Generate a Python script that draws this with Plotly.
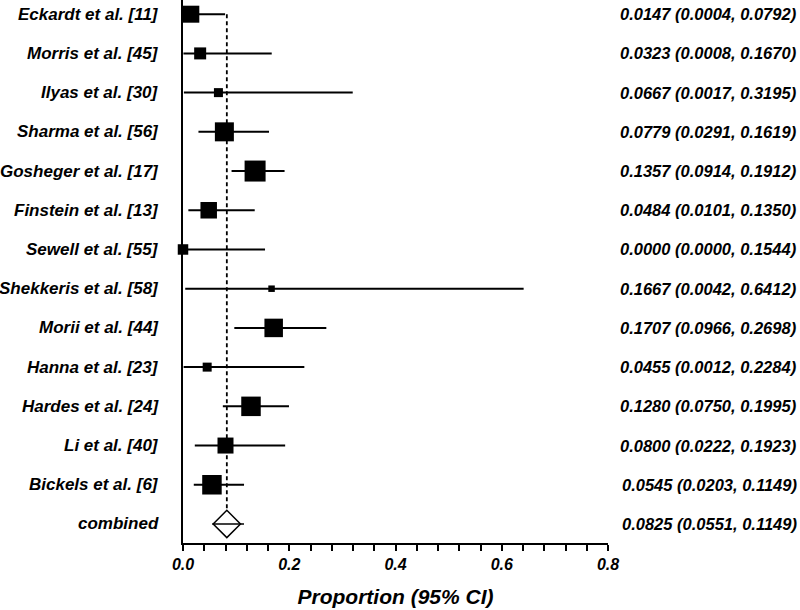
import plotly.graph_objects as go

# ---------------- data ----------------
studies = ["Eckardt et al. [11]", "Morris et al. [45]", "Ilyas et al. [30]",
           "Sharma et al. [56]", "Gosheger et al. [17]", "Finstein et al. [13]",
           "Sewell et al. [55]", "Shekkeris et al. [58]", "Morii et al. [44]",
           "Hanna et al. [23]", "Hardes et al. [24]", "Li et al. [40]",
           "Bickels et al. [6]"]
est = [0.0147, 0.0323, 0.0667, 0.0779, 0.1357, 0.0484, 0.0000, 0.1667,
       0.1707, 0.0455, 0.1280, 0.0800, 0.0545]
lo = [0.0004, 0.0008, 0.0017, 0.0291, 0.0914, 0.0101, 0.0000, 0.0042,
      0.0966, 0.0012, 0.0750, 0.0222, 0.0203]
hi = [0.0792, 0.1670, 0.3195, 0.1619, 0.1912, 0.1350, 0.1544, 0.6412,
      0.2698, 0.2284, 0.1995, 0.1923, 0.1149]
pooled_label = "combined"
pooled_est = 0.0825
pooled_lo = 0.0551
pooled_hi = 0.1149
x_ticks = [0.0, 0.2, 0.4, 0.6, 0.8]
x_title = "Proportion (95% CI)"

# ---------------- style ----------------
square_size = [17, 12, 9, 19, 21, 16.5, 10.5, 6.5, 18.5, 9, 19.5, 16, 19.5]
FONT = "Arial, Liberation Sans, sans-serif"
W, H = 800, 610
ML, MR, MT, MB = 183.3, 192.3, 0, 67.3
plot_w = W - ML - MR

n = len(studies)
rows = list(range(n))
pooled_row = n

fig = go.Figure()

# study CIs + squares
fig.add_trace(go.Scatter(
    x=est, y=rows, mode="markers",
    marker=dict(symbol="square", size=square_size, color="black",
                opacity=1, line=dict(width=0)),
    error_x=dict(type="data", symmetric=False,
                 array=[h - e for h, e in zip(hi, est)],
                 arrayminus=[e - l for e, l in zip(est, lo)],
                 width=0, thickness=2, color="black"),
    cliponaxis=False, showlegend=False, hoverinfo="skip"))

# dotted line at pooled estimate
fig.add_trace(go.Scatter(
    x=[pooled_est, pooled_est], y=[rows[0], pooled_row - 0.34],
    mode="lines", line=dict(color="black", width=1.8, dash="4px,3px"),
    showlegend=False, hoverinfo="skip"))

# pooled CI line + diamond
fig.add_trace(go.Scatter(
    x=[pooled_est], y=[pooled_row], mode="markers",
    marker=dict(symbol="diamond-open", size=21, color="black", opacity=1,
                line=dict(width=1.5, color="black")),
    error_x=dict(type="data", symmetric=False,
                 array=[pooled_hi - pooled_est],
                 arrayminus=[pooled_est - pooled_lo],
                 width=0, thickness=1.5, color="black"),
    cliponaxis=False, showlegend=False, hoverinfo="skip"))

label_font = dict(family=FONT, size=17, color="black", weight="bold", style="italic")
val_font = dict(family=FONT, size=16.5, color="black", weight="bold", style="italic")

labels = studies + [pooled_label]
values = [f"{e:.4f} ({l:.4f}, {h:.4f})" for e, l, h in zip(est, lo, hi)]
values.append(f"{pooled_est:.4f} ({pooled_lo:.4f}, {pooled_hi:.4f})")

for r, (lab, val) in enumerate(zip(labels, values)):
    fig.add_annotation(x=(161 - ML) / plot_w, xref="paper", y=r, yref="y",
                       text=lab, showarrow=False, xanchor="right",
                       yanchor="middle", font=label_font)
    fig.add_annotation(x=(798 - ML) / plot_w, xref="paper", y=r, yref="y",
                       text=val, showarrow=False, xanchor="right",
                       yanchor="middle", font=val_font)

fig.update_layout(
    width=W, height=H,
    margin=dict(l=ML, r=MR, t=MT, b=MB, pad=0),
    plot_bgcolor="white", paper_bgcolor="white",
    xaxis=dict(range=[0, 0.8], tickvals=x_ticks, tickformat=".1f",
               showline=True, linewidth=2, linecolor="black",
               ticks="outside", ticklen=6, tickwidth=2, tickcolor="black",
               minor=dict(dtick=0.04, ticks="outside", ticklen=6,
                          tickwidth=2, tickcolor="black"),
               showgrid=False, zeroline=False,
               tickfont=dict(family=FONT, size=16, color="black",
                             weight="bold", style="italic"),
               title=dict(text=x_title, standoff=17,
                          font=dict(family=FONT, size=21, color="black",
                                    weight="bold", style="italic"))),
    yaxis=dict(range=[n + 0.485, -0.362], showline=True, linewidth=2,
               linecolor="black", showticklabels=False, ticks="",
               showgrid=False, zeroline=False),
)

fig.write_html("out.html",
               config={"displayModeBar": False},
               post_script="document.body.style.margin='0';"
                           "document.body.style.overflow='hidden';")
